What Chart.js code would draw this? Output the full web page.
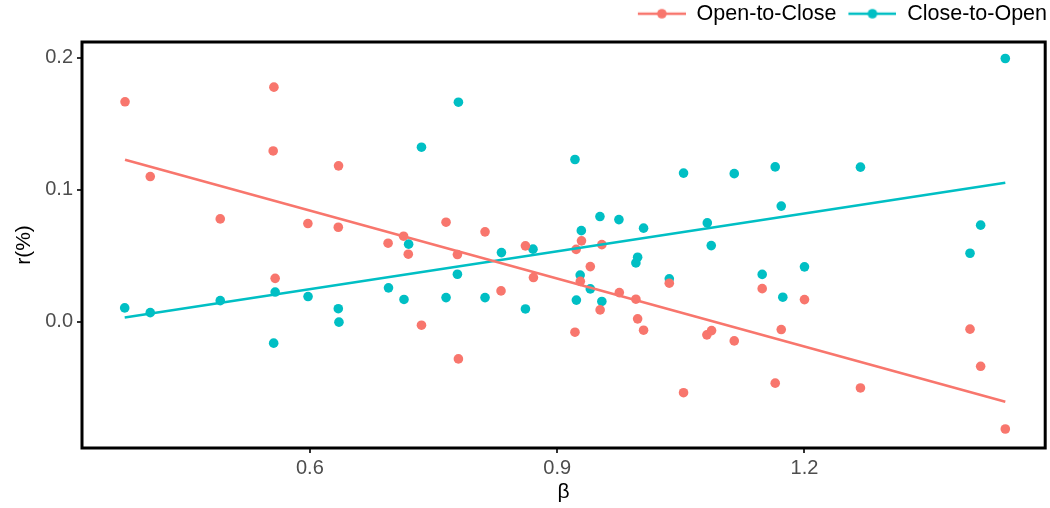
<!DOCTYPE html>
<html>
<head>
<meta charset="utf-8">
<script src="https://cdn.jsdelivr.net/npm/chart.js@4"></script>
<style>
  html, body { margin: 0; padding: 0; background: #fff; }
  #wrap { width: 1050px; height: 508px; }
</style>
</head>
<body>
<div id="wrap"><canvas id="betaChart" width="1050" height="508"></canvas></div>
<script>
// values
const seriesNames = ['Open-to-Close', 'Close-to-Open'];
const seriesColors = ['#F8766D', '#00BFC4'];

const betaOC = [0.3758, 0.4064, 0.4913, 0.5555, 0.5564, 0.5579, 0.5976, 0.6348, 0.6345, 0.6949,
    0.7137, 0.7194, 0.7354, 0.7652, 0.7790, 0.7802, 0.8125, 0.8319, 0.8615, 0.8712,
    0.9216, 0.9230, 0.9281, 0.9295, 0.9402, 0.9521, 0.9542, 0.9754, 0.9955, 0.9976,
    1.0048, 1.0360, 1.0533, 1.0816, 1.0873, 1.1148, 1.1487, 1.1645, 1.1718, 1.2000,
    1.2679, 1.4008, 1.4137, 1.4436];
const rOC = [0.1667, 0.1101, 0.0780, 0.1295, 0.1778, 0.0330, 0.0745, 0.1182, 0.0717, 0.0596,
    0.0649, 0.0513, -0.0025, 0.0755, 0.0510, -0.0280, 0.0682, 0.0235, 0.0576, 0.0336,
    -0.0078, 0.0549, 0.0307, 0.0614, 0.0419, 0.0091, 0.0585, 0.0222, 0.0172, 0.0023,
    -0.0063, 0.0293, -0.0536, -0.0098, -0.0066, -0.0144, 0.0252, -0.0464, -0.0058, 0.0169,
    -0.0500, -0.0055, -0.0336, -0.0811];

const betaCO = [0.3754, 0.4064, 0.4913, 0.5561, 0.5579, 0.5978, 0.6345, 0.6353, 0.6954, 0.7142,
    0.7198, 0.7354, 0.7652, 0.7790, 0.7802, 0.8125, 0.8324, 0.8615, 0.8707, 0.9216,
    0.9233, 0.9279, 0.9293, 0.9402, 0.9519, 0.9542, 0.9749, 0.9955, 0.9976, 1.0048,
    1.0360, 1.0533, 1.0821, 1.0869, 1.1148, 1.1487, 1.1645, 1.1718, 1.1737, 1.2000,
    1.2679, 1.4008, 1.4137, 1.4436];
const rCO = [0.0106, 0.0070, 0.0161, -0.0161, 0.0226, 0.0192, 0.0100, -0.0002, 0.0258, 0.0170,
    0.0589, 0.1323, 0.0184, 0.0361, 0.1664, 0.0184, 0.0525, 0.0098, 0.0551, 0.1230,
    0.0165, 0.0355, 0.0691, 0.0250, 0.0798, 0.0155, 0.0775, 0.0447, 0.0490, 0.0710,
    0.0326, 0.1127, 0.0750, 0.0578, 0.1123, 0.0360, 0.1174, 0.0877, 0.0187, 0.0417,
    0.1172, 0.0520, 0.0733, 0.1995];

const xTicks = [0.6, 0.9, 1.2];
const yTicks = [0.0, 0.1, 0.2];

const FONT = '"Liberation Sans", Arial, sans-serif';

function toPoints(xs, ys) {
    return xs.map((x, i) => ({ x: x, y: ys[i] }));
}

// least squares line over the range of the data (like geom_smooth(method = lm))
function fitLine(xs, ys) {
    const n = xs.length;
    const mx = xs.reduce((a, b) => a + b, 0) / n;
    const my = ys.reduce((a, b) => a + b, 0) / n;
    let sxy = 0, sxx = 0;
    for (let i = 0; i < n; i++) {
        sxy += (xs[i] - mx) * (ys[i] - my);
        sxx += (xs[i] - mx) * (xs[i] - mx);
    }
    const slope = sxy / sxx;
    const lo = Math.min(...xs), hi = Math.max(...xs);
    return [
        { x: lo, y: my + slope * (lo - mx) },
        { x: hi, y: my + slope * (hi - mx) }
    ];
}

// legend key: short line with a dot on it (blank margin on the left = gap between items)
function legendKey(color) {
    const c = document.createElement('canvas');
    c.width = 57;
    c.height = 12;
    const g = c.getContext('2d');
    g.strokeStyle = color;
    g.lineWidth = 2.5;
    g.beginPath();
    g.moveTo(9, 6);
    g.lineTo(57, 6);
    g.stroke();
    g.fillStyle = color;
    g.beginPath();
    g.arc(33, 6, 4.8, 0, Math.PI * 2);
    g.fill();
    return c;
}

const panelFrame = {
    id: 'panelFrame',
    beforeLayout(chart) {
        // keep the legend strip at a fixed height so the panel starts where it does in the picture
        const lg = chart.legend;
        if (lg && !lg._fixedFit) {
            const fit = lg.fit.bind(lg);
            lg.fit = function () {
                fit();
                this.height = 42;
                this.minSize = this.minSize || {};
            };
            lg._fixedFit = true;
        }
    },
    beforeDatasetsDraw(chart) {
        const { ctx, chartArea: a } = chart;
        ctx.save();
        ctx.strokeStyle = '#000';
        ctx.lineWidth = 3;
        ctx.strokeRect(a.left, a.top, a.right - a.left, a.bottom - a.top);
        ctx.restore();
    }
};

const ctx = document.getElementById('betaChart').getContext('2d');
new Chart(ctx, {
    type: 'scatter',
    data: {
        datasets: [{
            label: seriesNames[0],
            data: fitLine(betaOC, rOC),
            showLine: true,
            borderColor: seriesColors[0],
            borderWidth: 2.5,
            pointRadius: 0
        }, {
            label: seriesNames[1],
            data: fitLine(betaCO, rCO),
            showLine: true,
            borderColor: seriesColors[1],
            borderWidth: 2.5,
            pointRadius: 0
        }, {
            label: seriesNames[0] + ' points',
            data: toPoints(betaOC, rOC),
            backgroundColor: seriesColors[0],
            borderWidth: 0,
            pointRadius: 4.8
        }, {
            label: seriesNames[1] + ' points',
            data: toPoints(betaCO, rCO),
            backgroundColor: seriesColors[1],
            borderWidth: 0,
            pointRadius: 4.8
        }]
    },
    options: {
        responsive: false,
        animation: false,
        layout: { padding: 0 },
        plugins: {
            tooltip: { enabled: false },
            legend: {
                position: 'top',
                align: 'end',
                labels: {
                    usePointStyle: true,
                    pointStyleWidth: 57,
                    padding: 3,
                    color: '#000',
                    font: { family: FONT, size: 21.5 },
                    generateLabels: () => seriesNames.map((name, i) => ({
                        text: name,
                        pointStyle: legendKey(seriesColors[i]),
                        fillStyle: seriesColors[i],
                        strokeStyle: seriesColors[i],
                        lineWidth: 0,
                        hidden: false,
                        datasetIndex: i
                    }))
                }
            }
        },
        scales: {
            x: {
                type: 'linear',
                min: 0.3236,
                max: 1.492,
                afterFit: s => { s.height = 60; },
                afterBuildTicks: s => { s.ticks = xTicks.map(v => ({ value: v })); },
                ticks: {
                    color: '#4d4d4d',
                    padding: 3,
                    font: { family: FONT, size: 20 },
                    callback: v => v.toFixed(1)
                },
                grid: { drawOnChartArea: false, drawTicks: true, tickLength: 5, color: '#333', lineWidth: 2 },
                border: { display: false },
                title: {
                    display: true,
                    text: 'β',
                    color: '#000',
                    padding: { top: 0, bottom: 3 },
                    font: { family: FONT, size: 21 }
                }
            },
            y: {
                type: 'linear',
                min: -0.0955,
                max: 0.212,
                afterFit: s => { s.width = 82; },
                afterBuildTicks: s => { s.ticks = yTicks.map(v => ({ value: v })); },
                ticks: {
                    color: '#4d4d4d',
                    padding: 4,
                    font: { family: FONT, size: 20 },
                    callback: v => v.toFixed(1)
                },
                grid: { drawOnChartArea: false, drawTicks: true, tickLength: 5, color: '#333', lineWidth: 2 },
                border: { display: false },
                title: {
                    display: true,
                    text: 'r(%)',
                    color: '#000',
                    padding: { top: 12, bottom: 0 },
                    font: { family: FONT, size: 21 }
                }
            }
        }
    },
    plugins: [panelFrame]
});
</script>
</body>
</html>
